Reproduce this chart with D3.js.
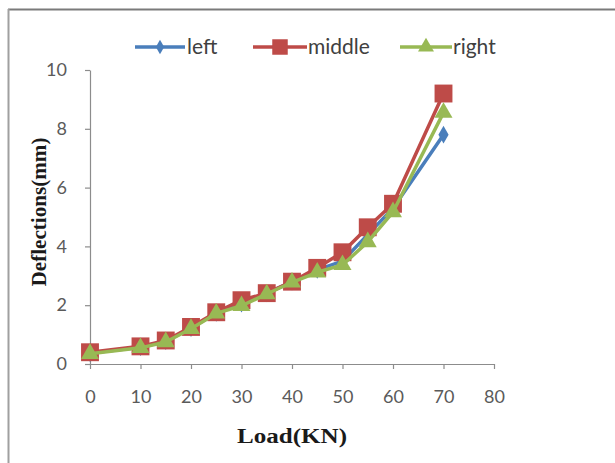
<!DOCTYPE html>
<html>
<head>
<meta charset="utf-8">
<script src="https://cdn.jsdelivr.net/npm/d3@7"></script>
<style>
html,body{margin:0;padding:0;background:#fff;}
svg{display:block;}
</style>
</head>
<body>
<svg id="chart" width="615" height="463"></svg>
<script>
const loads = [0, 10, 15, 20, 25, 30, 35, 40, 45, 50, 55, 60, 70];
const leftVals   = [0.37, 0.57, 0.78, 1.22, 1.74, 2.05, 2.40, 2.80, 3.20, 3.50, 4.40, 5.30, 7.80];
const middleVals = [0.40, 0.60, 0.80, 1.26, 1.76, 2.17, 2.41, 2.80, 3.27, 3.80, 4.65, 5.45, 9.20];
const rightVals  = [0.35, 0.55, 0.75, 1.20, 1.72, 1.98, 2.38, 2.78, 3.12, 3.37, 4.15, 5.17, 8.55];
const seriesNames = ["left", "middle", "right"];
const xTicks = [0, 10, 20, 30, 40, 50, 60, 70, 80];
const yTicks = [0, 2, 4, 6, 8, 10];
const xTitle = "Load(KN)";
const yTitle = "Deflections(mm)";

const colors = {left: "#4a7ebb", middle: "#be4b48", right: "#98b954"};
const seriesData = [
  {name: "left", values: leftVals},
  {name: "middle", values: middleVals},
  {name: "right", values: rightVals}
];

const svg = d3.select("#chart");

// frame
svg.append("line").attr("x1", 8).attr("x2", 615).attr("y1", 9.5).attr("y2", 9.5)
  .attr("stroke", "#7a7a7a").attr("stroke-width", 2);
svg.append("line").attr("x1", 8.5).attr("x2", 8.5).attr("y1", 9).attr("y2", 463)
  .attr("stroke", "#a0a0a0").attr("stroke-width", 2);

const x = d3.scaleLinear().domain([0, 80]).range([90, 494]);
const y = d3.scaleLinear().domain([0, 10]).range([364, 70]);

const tickFont = "Lato, 'Open Sans', sans-serif";

const xAxis = svg.append("g").attr("transform", "translate(0,364)")
  .call(d3.axisBottom(x).tickValues(xTicks).tickSize(5).tickPadding(21).tickSizeOuter(0));
const yAxis = svg.append("g").attr("transform", "translate(90,0)")
  .call(d3.axisLeft(y).tickValues(yTicks).tickSize(5).tickPadding(18).tickSizeOuter(0));

[xAxis, yAxis].forEach(g => {
  g.select(".domain").attr("stroke", "#8c8c8c").attr("stroke-width", 1.2);
  g.selectAll(".tick line").attr("stroke", "#8c8c8c").attr("stroke-width", 1.2);
  g.selectAll(".tick text").attr("fill", "#5a5a5a").style("font-family", tickFont).style("font-size", "18px");
});

// titles
svg.append("text").attr("x", 292).attr("y", 443).attr("text-anchor", "middle")
  .style("font-family", "'Liberation Serif', 'Times New Roman', serif").style("font-weight", "bold")
  .style("font-size", "20px").attr("fill", "#1a1a1a")
  .attr("textLength", 110).attr("lengthAdjust", "spacingAndGlyphs")
  .text(xTitle);
svg.append("text").attr("transform", "translate(46,212) rotate(-90)").attr("text-anchor", "middle")
  .style("font-family", "'Liberation Serif', 'Times New Roman', serif").style("font-weight", "bold")
  .style("font-size", "20px").attr("fill", "#1a1a1a")
  .attr("textLength", 149).attr("lengthAdjust", "spacingAndGlyphs")
  .text(yTitle);

const line = d3.line().x((d, i) => x(loads[i])).y(d => y(d));

const symbolFor = {
  left: d3.symbol().type(d3.symbolDiamond).size(90),
  middle: d3.symbol().type(d3.symbolSquare).size(320),
  right: d3.symbol().type(d3.symbolTriangle).size(140)
};

seriesData.forEach(s => {
  const g = svg.append("g");
  g.append("path").datum(s.values).attr("d", line)
    .attr("fill", "none").attr("stroke", colors[s.name]).attr("stroke-width", 3.5)
    .attr("stroke-linejoin", "round");
  g.selectAll("path.m").data(s.values).enter().append("path").attr("class", "m")
    .attr("d", symbolFor[s.name])
    .attr("transform", (d, i) => `translate(${x(loads[i])},${y(d)})`)
    .attr("fill", colors[s.name]);
});

// legend
const legendItems = [
  {name: "left", x1: 135, x2: 185, tx: 187},
  {name: "middle", x1: 253, x2: 307, tx: 308},
  {name: "right", x1: 400, x2: 452, tx: 453}
];
const legendSymbols = {
  left: d3.symbol().type(d3.symbolDiamond).size(60),
  middle: d3.symbol().type(d3.symbolSquare).size(240),
  right: d3.symbol().type(d3.symbolTriangle).size(110)
};
const lg = svg.append("g");
legendItems.forEach(it => {
  lg.append("line").attr("x1", it.x1).attr("x2", it.x2).attr("y1", 47).attr("y2", 47)
    .attr("stroke", colors[it.name]).attr("stroke-width", 3.5);
  lg.append("path").attr("d", legendSymbols[it.name])
    .attr("transform", `translate(${(it.x1 + it.x2) / 2},47)`).attr("fill", colors[it.name]);
  lg.append("text").attr("x", it.tx).attr("y", 47).attr("dy", "0.35em")
    .style("font-family", tickFont).style("font-size", "21px").attr("fill", "#404040")
    .text(it.name);
});
</script>
</body>
</html>
